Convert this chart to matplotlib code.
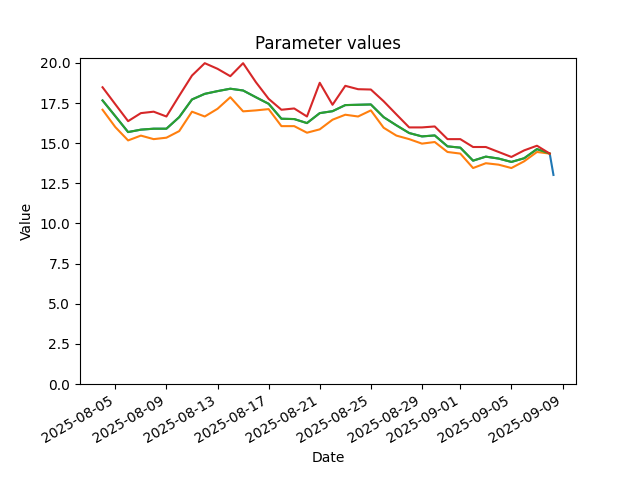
import matplotlib
matplotlib.use("Agg")
import matplotlib.pyplot as plt
import pandas as pd

dates = pd.date_range("2025-08-04", "2025-09-08", freq="D")

orange_vals = [17.08, 16.0, 15.17, 15.47, 15.25, 15.34, 15.75, 16.96, 16.66, 17.14,
               17.86, 16.98, 17.04, 17.12, 16.06, 16.06, 15.65, 15.86, 16.46, 16.77,
               16.66, 17.04, 15.96, 15.47, 15.25, 14.97, 15.07, 14.45, 14.35, 13.45,
               13.75, 13.66, 13.45, 13.87, 14.45, 14.35]

green_vals = [17.66, 16.68, 15.69, 15.84, 15.9, 15.9, 16.62, 17.72, 18.07, 18.24,
              18.39, 18.28, 17.86, 17.45, 16.52, 16.5, 16.25, 16.87, 16.99, 17.37,
              17.39, 17.41, 16.62, 16.11, 15.63, 15.42, 15.48, 14.8, 14.72, 13.91,
              14.16, 14.04, 13.83, 14.06, 14.63, 14.35]

red_vals = [18.48, 17.42, 16.37, 16.87, 16.96, 16.66, 17.95, 19.21, 19.98, 19.63,
            19.17, 19.98, 18.80, 17.76, 17.08, 17.16, 16.66, 18.76, 17.39, 18.57,
            18.36, 18.34, 17.61, 16.79, 15.98, 15.98, 16.04, 15.25, 15.25, 14.76,
            14.76, 14.45, 14.14, 14.55, 14.84, 14.35]

blue_extra_time = pd.Timestamp("2025-09-08 07:00")
blue_extra_val = 13.02
blue_dates = list(dates) + [blue_extra_time]
blue_vals = green_vals + [blue_extra_val]

fig, ax = plt.subplots(figsize=(6.4, 4.8), dpi=100)
ax.plot(blue_dates, blue_vals, color="#1f77b4")
ax.plot(dates, orange_vals, color="#ff7f0e")
ax.plot(dates, green_vals, color="#2ca02c")
ax.plot(dates, red_vals, color="#d62728")
ax.set_ylim(bottom=0)
ax.set_title("Parameter values")
ax.set_xlabel("Date")
ax.set_ylabel("Value")
fig.autofmt_xdate()
fig.savefig("out.png", dpi=100)
